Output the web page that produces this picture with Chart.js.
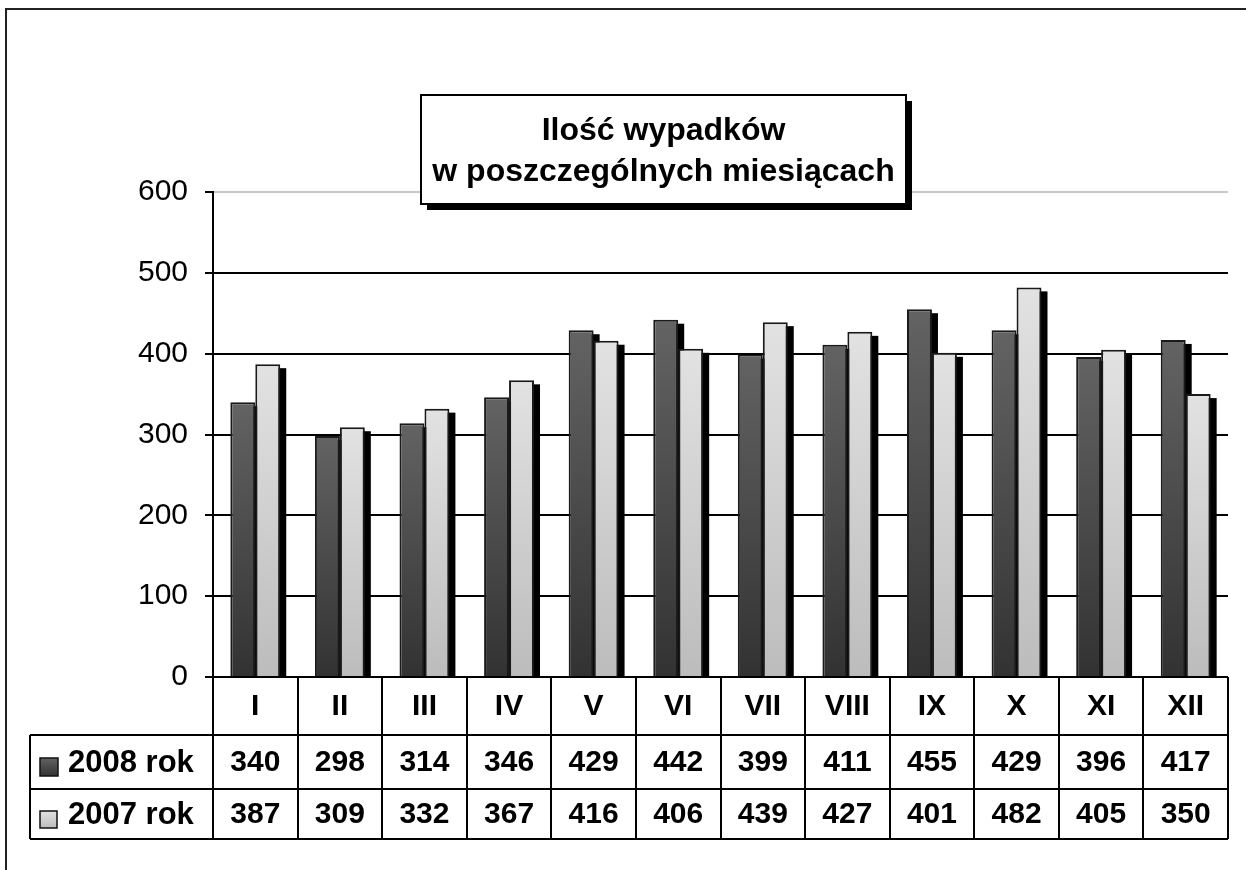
<!DOCTYPE html>
<html>
<head>
<meta charset="utf-8">
<script src="https://cdn.jsdelivr.net/npm/chart.js@4/dist/chart.umd.min.js"></script>
<style>
  html, body { margin: 0; padding: 0; background: #fff; }
  #wrap { width: 1246px; height: 870px; }
</style>
</head>
<body>
<div id="wrap"><canvas id="myChart" width="1246" height="870"></canvas></div>
<script>
const months = ['I', 'II', 'III', 'IV', 'V', 'VI', 'VII', 'VIII', 'IX', 'X', 'XI', 'XII'];
const values2008 = [340, 298, 314, 346, 429, 442, 399, 411, 455, 429, 396, 417];
const values2007 = [387, 309, 332, 367, 416, 406, 439, 427, 401, 482, 405, 350];
const seriesNames = ['2008 rok', '2007 rok'];
const yTicks = [0, 100, 200, 300, 400, 500, 600];
const titleLines = ['Ilość wypadków', 'w poszczególnych miesiącach'];

const FONT = "'Liberation Sans', Arial, sans-serif";
const darkTop = '#636363', darkBottom = '#323232';
const lightTop = '#e2e2e2', lightBottom = '#bcbcbc';

// gradient per bar, from bar top to the base
const barGradient = function(top, bottom) {
    return function(context) {
        const chart = context.chart;
        if (!chart.chartArea || !chart.scales.y) return bottom;
        const y = chart.scales.y.getPixelForValue(context.raw);
        const g = chart.ctx.createLinearGradient(0, y, 0, chart.chartArea.bottom);
        g.addColorStop(0, top);
        g.addColorStop(1, bottom);
        return g;
    };
};

const swatch = function(ctx, x, y, s, top, bottom) {
    const g = ctx.createLinearGradient(0, y, 0, y + s);
    g.addColorStop(0, top);
    g.addColorStop(1, bottom);
    ctx.fillStyle = g;
    ctx.fillRect(x, y, s, s);
    ctx.strokeStyle = '#111';
    ctx.lineWidth = 1.5;
    ctx.strokeRect(x, y, s, s);
};

const decorPlugin = {
    id: 'decor',
    beforeDatasetsDraw(chart) {
        // black drop shadows behind the bars
        const ctx = chart.ctx;
        const base = chart.scales.y.getPixelForValue(0);
        ctx.save();
        ctx.fillStyle = '#000';
        chart.data.datasets.forEach((ds, i) => {
            chart.getDatasetMeta(i).data.forEach(bar => {
                const w = bar.width;
                ctx.fillRect(bar.x - w / 2 + 6, bar.y + 4, w, base - bar.y - 3);
            });
        });
        ctx.restore();
    },
    afterDraw(chart) {
        const ctx = chart.ctx;
        const area = chart.chartArea;
        const xs = chart.scales.x;
        const step = (area.right - area.left) / months.length;
        const rowTop = area.bottom;
        const r1 = rowTop + 58, r2 = r1 + 54, r3 = r2 + 50;
        const legendLeft = 30;

        ctx.save();
        // outer frame
        ctx.strokeStyle = '#222';
        ctx.lineWidth = 2;
        ctx.strokeRect(6, 9, 3000, 3000);

        // data table grid
        ctx.strokeStyle = '#000';
        ctx.lineWidth = 2;
        ctx.beginPath();
        for (let i = 0; i <= months.length; i++) {
            const x = Math.round(area.left + i * step);
            ctx.moveTo(x, rowTop);
            ctx.lineTo(x, r3);
        }
        [r1, r2, r3].forEach(y => {
            ctx.moveTo(legendLeft, y);
            ctx.lineTo(area.right, y);
        });
        ctx.moveTo(legendLeft, r1);
        ctx.lineTo(legendLeft, r3);
        ctx.stroke();

        ctx.fillStyle = '#000';
        ctx.textAlign = 'center';
        ctx.textBaseline = 'middle';
        ctx.font = 'bold 30px ' + FONT;
        months.forEach((m, i) => {
            const x = xs.getPixelForValue(i);
            ctx.fillText(m, x, (rowTop + r1) / 2 + 1);
            ctx.fillText(String(values2008[i]), x, (r1 + r2) / 2 + 1);
            ctx.fillText(String(values2007[i]), x, (r2 + r3) / 2 + 1);
        });

        // legend keys in the table
        swatch(ctx, 40, (r1 + r2) / 2 - 4, 18, darkTop, darkBottom);
        swatch(ctx, 40, (r2 + r3) / 2 - 3, 17, lightTop, lightBottom);
        ctx.fillStyle = '#000';
        ctx.textAlign = 'left';
        ctx.font = 'bold 31px ' + FONT;
        ctx.fillText(seriesNames[0], 68, (r1 + r2) / 2 + 1);
        ctx.fillText(seriesNames[1], 68, (r2 + r3) / 2 + 1);

        // title box with shadow
        const bx = 421, by = 95, bw = 485, bh = 109;
        ctx.fillStyle = '#000';
        ctx.fillRect(bx + 6, by + 6, bw, bh);
        ctx.fillStyle = '#fff';
        ctx.fillRect(bx, by, bw, bh);
        ctx.strokeStyle = '#000';
        ctx.lineWidth = 2;
        ctx.strokeRect(bx, by, bw, bh);
        ctx.fillStyle = '#000';
        ctx.textAlign = 'center';
        ctx.textBaseline = 'alphabetic';
        ctx.font = 'bold 32px ' + FONT;
        ctx.fillText(titleLines[0], bx + bw / 2, 140);
        ctx.fillText(titleLines[1], bx + bw / 2, 181);
        ctx.restore();
    }
};

const ctx = document.getElementById('myChart').getContext('2d');
const myChart = new Chart(ctx, {
    type: 'bar',
    data: {
        labels: months,
        datasets: [{
            label: seriesNames[0],
            data: values2008,
            backgroundColor: barGradient(darkTop, darkBottom),
            borderColor: '#1a1a1a',
            borderWidth: 2,
            borderSkipped: 'bottom'
        }, {
            label: seriesNames[1],
            data: values2007,
            backgroundColor: barGradient(lightTop, lightBottom),
            borderColor: '#1a1a1a',
            borderWidth: 2,
            borderSkipped: 'bottom'
        }]
    },
    options: {
        responsive: false,
        animation: false,
        layout: { padding: { top: 192, right: 18, bottom: 193, left: 0 } },
        datasets: { bar: { categoryPercentage: 0.59, barPercentage: 1.0 } },
        plugins: {
            legend: { display: false },
            title: { display: false },
            tooltip: { enabled: false }
        },
        scales: {
            x: { display: false },
            y: {
                min: 0,
                max: 600,
                afterFit(scale) { scale.width = 213; },
                afterBuildTicks(scale) { scale.ticks = yTicks.map(v => ({ value: v })); },
                ticks: {
                    color: '#000',
                    padding: 17,
                    font: { family: FONT, size: 30 }
                },
                grid: {
                    color: c => (c.tick && c.tick.value === 600 ? '#c8c8c8' : '#000'),
                    lineWidth: 2,
                    tickLength: 8,
                    tickColor: '#000'
                },
                border: { display: true, color: '#000', width: 2 }
            }
        }
    },
    plugins: [decorPlugin]
});
</script>
</body>
</html>
